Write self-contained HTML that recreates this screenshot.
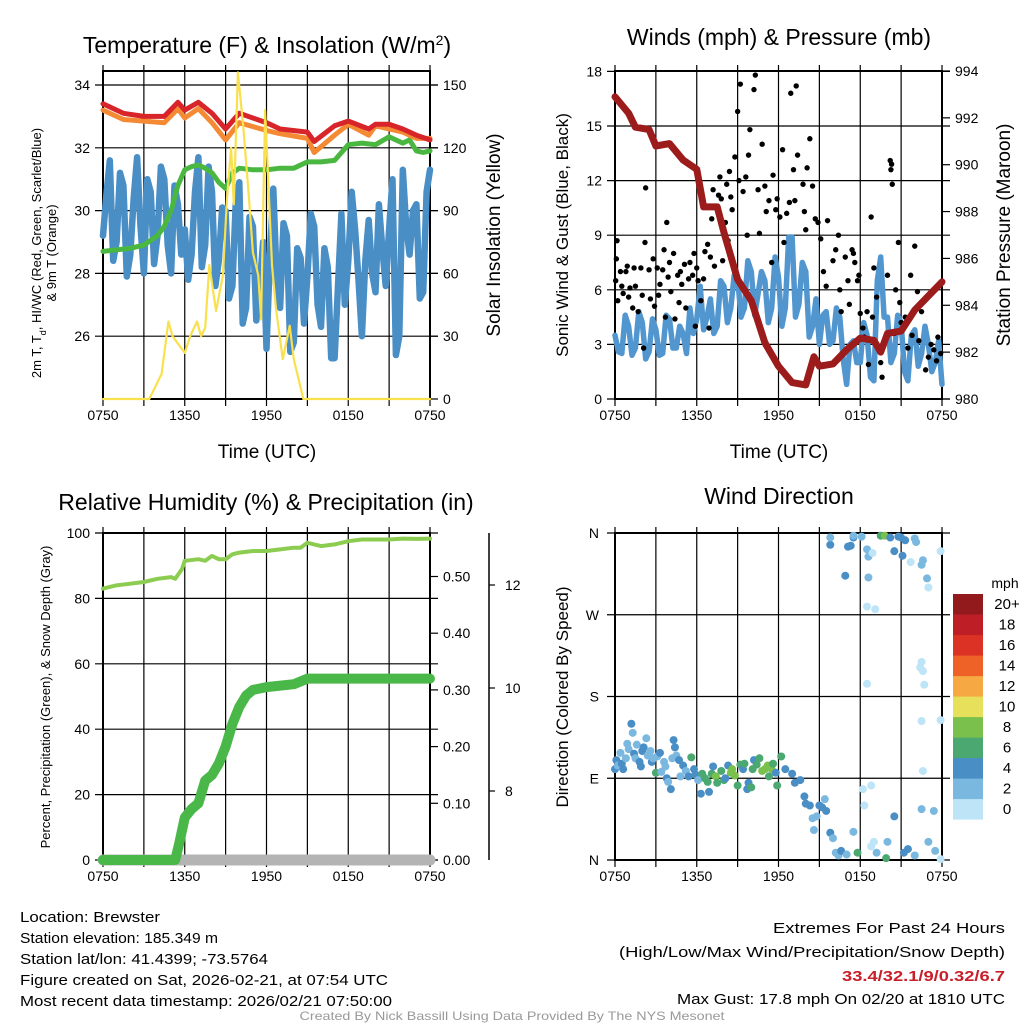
<!DOCTYPE html>
<html><head><meta charset="utf-8"><title>Brewster Meteogram</title>
<style>
html,body{margin:0;padding:0;background:#fff;}
svg{display:block;font-family:"Liberation Sans",sans-serif;}
</style></head>
<body>
<svg id="fig" width="1024" height="1024" viewBox="0 0 1024 1024" xmlns="http://www.w3.org/2000/svg">
<rect width="1024" height="1024" fill="#fff"/>
<g id="layer"></g>
<text x="267" y="53" font-size="23" text-anchor="middle">Temperature (F) &amp; Insolation (W/m<tspan baseline-shift="super" font-size="14">2</tspan>)</text>
<text x="779" y="45" font-size="23" text-anchor="middle">Winds (mph) &amp; Pressure (mb)</text>
<text x="266" y="510" font-size="23" text-anchor="middle">Relative Humidity (%) &amp; Precipitation (in)</text>
<text x="779" y="504" font-size="23" text-anchor="middle">Wind Direction</text>
<text x="267" y="458" font-size="19" text-anchor="middle">Time (UTC)</text>
<text x="779" y="458" font-size="19" text-anchor="middle">Time (UTC)</text>
<g transform="translate(41,253) rotate(-90)">
<text x="0" y="0" font-size="13" text-anchor="middle">2m T, T<tspan baseline-shift="sub" font-size="9">d</tspan>, HI/WC (Red, Green, Scarlet/Blue)</text>
<text x="0" y="15" font-size="13" text-anchor="middle">&amp; 9m T (Orange)</text>
</g>
<text transform="translate(500,235) rotate(-90)" font-size="19" text-anchor="middle">Solar Insolation (Yellow)</text>
<text transform="translate(568,235) rotate(-90)" font-size="17" text-anchor="middle">Sonic Wind &amp; Gust (Blue, Black)</text>
<text transform="translate(1010,235) rotate(-90)" font-size="19" text-anchor="middle">Station Pressure (Maroon)</text>
<text transform="translate(50,697) rotate(-90)" font-size="13" text-anchor="middle">Percent, Precipitation (Green), &amp; Snow Depth (Gray)</text>
<text transform="translate(568,697) rotate(-90)" font-size="17" text-anchor="middle">Direction (Colored By Speed)</text>
<text x="1005" y="588" font-size="14" text-anchor="middle">mph</text>
<g font-size="14.5">
<text x="20" y="922" textLength="140" lengthAdjust="spacingAndGlyphs">Location: Brewster</text>
<text x="20" y="943" textLength="198" lengthAdjust="spacingAndGlyphs">Station elevation: 185.349 m</text>
<text x="20" y="964" textLength="248" lengthAdjust="spacingAndGlyphs">Station lat/lon: 41.4399; -73.5764</text>
<text x="20" y="985" textLength="368" lengthAdjust="spacingAndGlyphs">Figure created on Sat, 2026-02-21, at 07:54 UTC</text>
<text x="20" y="1006" textLength="372" lengthAdjust="spacingAndGlyphs">Most recent data timestamp: 2026/02/21 07:50:00</text>
</g>
<g font-size="15" text-anchor="end">
<text x="1005" y="933" textLength="232" lengthAdjust="spacingAndGlyphs">Extremes For Past 24 Hours</text>
<text x="1005" y="957" textLength="386" lengthAdjust="spacingAndGlyphs">(High/Low/Max Wind/Precipitation/Snow Depth)</text>
<text x="1005" y="981" fill="#c8202a" font-weight="bold" textLength="163" lengthAdjust="spacingAndGlyphs">33.4/32.1/9/0.32/6.7</text>
<text x="1005" y="1004" textLength="328" lengthAdjust="spacingAndGlyphs">Max Gust: 17.8 mph On 02/20 at 1810 UTC</text>
</g>
<text x="512" y="1020" font-size="12" fill="#999" text-anchor="middle" textLength="425" lengthAdjust="spacingAndGlyphs">Created By Nick Bassill Using Data Provided By The NYS Mesonet</text>
</svg>
<script>
// ---------- DATA ----------
const xTickLabels = ["0750","1350","1950","0150","0750"];
const tempTicks = [26,28,30,32,34];
const insolTicks = [0,30,60,90,120,150];
const windTicks = [0,3,6,9,12,15,18];
const presTicks = [980,982,984,986,988,990,992,994];
const rhTicks = [0,20,40,60,80,100];
const precipTicks = ["0.00","0.10","0.20","0.30","0.40","0.50"];
const snowTicks = [8,10,12];
const dirTicks = ["N","E","S","W","N"];
const speedBins = ["0","2","4","6","8","10","12","14","16","18","20+"];

const tempHours = [0,1,1.5,3,4.5,5.5,6,7,8,9,10,12,13,15,15.5,17,18,19.5,20,21,22,23,24];
const redT =    [33.4,33.2,33.1,33.0,33.0,33.45,33.2,33.45,33.1,32.6,33.1,32.8,32.6,32.5,32.2,32.7,32.85,32.6,32.75,32.75,32.6,32.4,32.25];
const orangeT = [33.2,33.0,32.9,32.85,32.8,33.25,32.95,33.25,32.8,32.25,32.8,32.55,32.45,32.3,31.85,32.4,32.75,32.4,32.7,32.6,32.5,32.3,32.3];
const greenHours = [0,1,2,3,4,4.5,5,5.5,6,6.5,7,7.5,8,8.5,9,9.5,10,11,12,13,14,15,16,17,18,19,20,21,22,22.5,23,23.5,24];
const greenT = [28.7,28.75,28.8,28.9,29.2,29.5,30.0,30.8,31.3,31.4,31.45,31.35,31.2,30.9,30.7,31.2,31.35,31.3,31.3,31.35,31.35,31.55,31.55,31.6,32.1,32.15,32.1,32.35,32.15,32.25,31.9,31.85,31.9];
const blueT = [29.2,30.5,31.6,28.4,29.0,31.2,30.8,27.9,28.6,30.4,31.7,29.5,28.0,31.0,30.6,28.3,29.2,31.4,31.0,28.9,28.0,30.8,30.2,28.6,29.4,27.8,28.6,30.6,31.7,28.2,28.9,31.4,30.6,27.6,28.4,30.1,30.0,27.2,27.6,30.3,30.9,26.4,26.9,29.8,29.5,26.5,27.6,29.0,25.6,28.5,30.7,27.8,26.9,29.6,29.2,25.5,25.8,28.8,28.5,26.4,27.9,29.9,29.5,27.0,26.3,28.8,28.2,25.3,25.3,27.6,29.9,27.0,28.4,30.6,29.4,27.8,26.0,28.4,29.7,28.0,27.4,30.2,28.8,27.6,29.4,31.0,25.4,26.0,31.3,29.5,28.6,30.0,30.2,27.2,27.4,30.6,31.3];
const insolHours = [0,3.4,4.3,4.8,5.1,6.0,6.4,6.9,7.2,7.5,7.8,8.3,8.8,9.1,9.4,9.6,9.9,10.3,10.7,11.0,11.4,11.6,11.9,12.4,12.7,13.2,13.7,14.0,14.7,24];
const insol = [0,0,12,37,30,22,30,37,30,34,64,42,59,96,120,93,156,130,97,70,59,38,138,64,43,19,35,19,0,0];

const sonicWind = [3.5,2.6,2.5,4.6,4.0,2.4,2.8,4.8,4.2,2.2,2.6,4.4,3.8,2.4,2.5,4.6,4.4,2.8,2.8,4.0,3.6,2.5,5.0,3.6,4.4,6.2,3.8,4.5,5.5,3.6,4.0,6.5,6.2,4.2,5.0,6.8,6.7,4.5,5.0,7.6,7.0,4.6,5.8,7.0,6.5,4.2,5.0,7.8,6.7,4.0,5.0,8.9,8.9,4.5,5.2,7.5,7.0,3.4,4.0,5.5,3.0,4.6,4.8,3.0,3.2,5.0,4.5,2.2,0.8,3.0,3.2,2.0,2.0,4.2,3.5,1.2,1.0,6.5,7.8,4.5,4.5,2.0,2.5,4.6,4.2,1.5,1.0,3.5,3.8,1.8,2.5,4.0,3.0,1.5,2.0,3.2,0.8];
const presHours = [0,1,1.5,2.5,3,4,5,6,6.5,7.5,8,9,10,11,12,13,14,14.6,15,16,17,18,19,19.5,20,21,22,23,24];
const pressure = [992.9,992.2,991.6,991.5,990.8,990.9,990.2,989.8,988.2,988.2,987.1,985.1,984.2,982.4,981.4,980.7,980.6,981.8,981.4,981.5,982.1,982.6,982.5,982.0,982.8,982.9,983.8,984.4,985.0];
const gustHours = [0.05,0.1,0.15,0.2,0.4,0.5,0.6,0.8,0.9,1.0,1.1,1.3,1.4,1.5,1.7,1.9,2.0,2.1,2.2,2.25,2.5,2.6,2.8,2.9,3.1,3.2,3.3,3.5,3.6,3.7,3.8,3.9,4.0,4.1,4.3,4.4,4.6,4.7,4.8,4.9,5.1,5.2,5.4,5.5,5.7,5.8,5.9,6.0,6.1,6.3,6.5,6.6,6.8,6.9,7.0,7.1,7.2,7.3,7.5,7.6,7.7,7.8,7.9,8.0,8.1,8.2,8.3,8.4,8.5,8.6,8.8,9.0,9.2,9.1,9.4,9.6,9.7,9.8,9.9,10.2,10.3,10.5,10.6,10.8,11.0,11.1,11.3,11.5,11.6,11.8,11.9,12.1,12.3,12.4,12.6,12.8,12.9,13.1,13.2,13.3,13.4,13.8,13.9,14.0,14.1,14.3,14.5,14.7,14.9,15.1,15.3,15.5,15.6,16.0,16.2,16.4,16.5,16.6,16.9,17.1,17.2,17.4,17.5,17.6,17.8,17.9,18.0,18.2,18.3,18.5,18.6,18.8,18.9,19.0,19.2,19.5,19.6,20.0,20.2,20.25,20.3,20.35,20.5,20.6,20.8,20.9,21.0,21.3,21.5,21.7,21.8,22.0,22.2,22.3,22.5,22.8,23.0,23.2,23.4,23.6,23.7,23.9];
const gustSpeed = [6.5,7.7,8.7,5.4,7.0,6.2,5.8,7.0,7.3,5.6,6.1,5.0,7.2,6.2,4.8,7.2,5.7,2.8,8.6,11.6,7.1,5.5,7.7,5.1,7.2,5.7,6.3,7.1,8.2,4.5,9.7,6.7,7.5,5.9,8.0,4.4,6.8,5.3,7.0,6.3,7.4,5.0,6.6,7.5,6.8,8.0,4.0,7.2,6.5,5.4,6.6,8.1,8.5,3.9,7.8,9.9,11.5,7.3,10.5,11.2,12.2,11.0,7.6,9.0,9.7,11.8,8.7,12.5,11.1,10.4,13.3,15.8,17.3,12.0,11.4,12.2,9.0,13.4,14.8,17.0,17.8,11.5,9.1,14.0,11.7,10.3,10.9,7.5,12.3,10.4,11.0,10.0,13.7,8.6,10.2,10.8,16.8,12.6,10.9,17.2,13.4,11.8,10.3,9.3,12.7,14.3,11.7,9.9,9.7,8.8,7.0,6.2,9.8,7.6,8.2,9.0,6.0,4.8,7.8,6.5,5.2,8.2,8.0,7.5,6.5,6.8,4.7,3.9,3.4,4.8,1.9,10.0,4.5,7.2,5.6,2.0,1.2,6.8,13.1,12.6,12.9,11.8,3.6,6.0,8.6,5.3,4.2,4.5,2.8,6.8,3.5,8.4,5.9,3.2,4.8,1.6,2.3,3.0,2.7,2.1,3.4,2.5];

const rhHours = [0,1,2,3,4,5,5.3,5.8,6,7,7.5,8,8.5,9,9.5,10,11,12,13,14,14.5,15,16,17,18,19,20,21,22,23,24];
const rh = [83,84,84.5,85,86,86.5,86,89,91.5,92,91.5,93,92,92,93.5,94,94.5,94.5,95,95.5,95.5,97,96,96.5,97.5,98,98,98,98.3,98.2,98.3];
const precipHours = [0,5.3,5.6,6,6.5,7,7.5,8,8.5,9,9.5,10,10.5,11,12,14,15,24];
const precip = [0,0,0.03,0.075,0.09,0.10,0.14,0.15,0.17,0.20,0.24,0.27,0.29,0.30,0.305,0.31,0.32,0.32];
const snowHours = [0,24];
const snowDepth = [0,0];

const dirHours = [0.0,0.1,0.2,0.4,0.5,0.6,0.8,0.9,1.0,1.2,1.3,1.4,1.5,1.6,1.8,1.9,2.0,2.1,2.3,2.4,2.6,2.7,2.8,3.0,3.1,3.3,3.4,3.6,3.7,3.8,3.9,4.1,4.2,4.3,4.4,4.5,4.7,4.8,5.0,5.2,5.4,5.6,5.8,5.9,6.1,6.3,6.4,6.6,6.8,6.9,7.1,7.2,7.4,7.5,7.8,8.0,8.1,8.3,8.5,8.6,8.8,9.0,9.2,9.4,9.5,9.7,9.8,10.0,10.1,10.2,10.4,10.6,10.8,11.0,11.2,11.3,11.5,11.6,11.8,11.9,12.2,12.5,13.0,13.2,13.6,13.9,14.0,14.3,14.5,14.6,14.8,15.0,15.2,15.4,15.5,15.8,16.0,16.2,16.4,16.6,17.0,17.8,17.5,18.2,18.3,18.8,19.0,19.2,19.9,20.0,20.5,21.2,21.5,22.0,22.5,23.0,23.5,23.9,15.8,15.8,17.1,16.9,17.5,17.3,17.5,18.1,18.5,18.6,18.6,18.9,19.5,19.8,20.2,20.5,20.8,21.0,21.1,21.3,21.7,22.0,22.1,22.5,22.6,22.9,23.0,23.9,18.5,19.1,22.4,22.5,22.6,22.7,18.5,22.5,23.9,22.6,18.8,23.4];
const dirDeg = [100,110,104,118,106,100,112,128,122,150,140,117,112,127,108,103,120,124,134,115,120,108,112,96,114,118,97,108,103,90,86,78,112,132,124,115,110,92,104,98,92,113,100,94,88,73,95,90,86,75,95,103,92,85,98,88,90,104,96,100,93,82,105,100,106,78,85,80,100,110,105,112,98,100,104,92,100,106,96,82,114,100,95,85,88,70,62,60,46,33,48,60,58,67,54,30,24,8,5,10,6,8,31,78,60,15,20,8,2,20,48,8,12,5,56,20,10,1,347,355,345,313,355,346,357,356,342,334,311,338,357,357,355,340,356,355,335,352,328,354,350,325,330,310,300,340,279,276,212,218,208,193,194,153,154,98,82,54];
const dirSpeed = [4.5,4.2,3.5,3.0,4.5,4.0,3.2,2.5,2.8,4.2,3.0,4.0,3.1,2.4,4.3,4.0,4.1,4.4,2.9,3.2,2.7,4.1,3.8,7.5,3.5,4.3,2.8,3.9,2.6,4.2,3.2,4.4,3.0,4.0,4.2,2.8,4.5,3.5,4.0,3.5,4.4,6.0,4.2,4.3,3.6,4.4,7.0,6.5,7.0,4.5,6.8,4.1,8.0,6.5,7.5,6.0,4.0,4.5,8.5,9.0,8.2,6.5,6.8,4.3,6.0,4.6,4.0,7.0,6.0,4.1,7.0,6.5,8.5,8.0,8.5,6.5,8.0,7.5,4.5,6.1,6.2,5.0,4.4,4.0,4.5,4.2,4.4,4.0,3.0,2.8,3.6,4.3,4.0,3.0,4.2,4.0,3.0,3.5,2.4,4.4,3.5,7.0,2.5,1.2,1.4,1.5,1.2,3.0,7.0,2.5,4.5,4.4,4.0,2.5,3.0,2.2,2.0,0.8,4.5,2.5,4.5,4.0,4.4,4.0,3.0,3.5,3.0,2.8,2.5,1.2,7.5,8.0,4.0,4.2,4.0,4.6,4.4,4.3,1.2,2.5,2.5,3.0,2.8,2.6,1.5,1.0,1.0,1.2,1.2,1.0,1.0,1.0,1.0,1.2,1.5,1.0,1.0,3.8];

// ---------- RENDER ----------
const NS = "http://www.w3.org/2000/svg";
const layer = document.getElementById("layer");
function mk(tag, attrs, parent){
  const e = document.createElementNS(NS, tag);
  for (const k in attrs) e.setAttribute(k, attrs[k]);
  (parent || layer).appendChild(e);
  return e;
}
const binColors = ["#bde4f7","#7ab8e0","#4a8ec6","#4aa870","#7ac04c","#e6e05a","#f6a843","#ee6228","#dc3226","#be1e26","#931a1c"];

const panels = {
  tl:{x0:103,x1:430,y0:71,y1:399},
  tr:{x0:615,x1:942,y0:71,y1:399},
  bl:{x0:103,x1:430,y0:533,y1:860},
  br:{x0:615,x1:942,y0:533,y1:860}
};
function xs(p,h){return p.x0 + h/24*(p.x1-p.x0);}
const yTemp = v => 399 - (v-24)*31.4;
const yInsol = v => 399 - v*62.8/30;
const yWind = v => 399 - v*18.2;
const yPres = v => 399 - (v-980)*23.43;
const yRH = v => 860 - v*3.27;
const yPrecip = v => 860 - v*567;
const yDir = d => 860 - d/360*327;
const ySnow = v => 688 - (v-10)*51.5;

function frame(p, name){
  const g = mk("g", {});
  
  
  for (let i=0;i<=8;i++){
    const x = xs(p, i*3);
    mk("line",{x1:x,y1:p.y0-6,x2:x,y2:p.y1+7,stroke:"#000","stroke-width":1.2},g);
  }
  const labs = mk("g",{"font-size":14,"text-anchor":"middle"});
  
  
  xTickLabels.forEach((t,i)=>{
    const tx = mk("text",{x:xs(p,i*6),y:p.y1+21},labs);
    tx.textContent = t;
  });
  const r = mk("rect",{x:p.x0,y:p.y0,width:p.x1-p.x0,height:p.y1-p.y0,fill:"none",stroke:"#000","stroke-width":2});
  
  
}
function hgrid(p, vals, yf, name, labelFmt, side, gridOn){
  const g = mk("g",{"font-size":14,"text-anchor": side==="left"?"end":"start"});
  
  
  vals.forEach(v=>{
    const y = yf(typeof v==="string"?parseFloat(v):v);
    if (gridOn) mk("line",{x1:p.x0-8,y1:y,x2:p.x1+8,y2:y,stroke:"#000","stroke-width":1.2},g);
    else if (side==="right") mk("line",{x1:p.x1,y1:y,x2:p.x1+8,y2:y,stroke:"#000","stroke-width":1.2},g);
    const t = mk("text",{x: side==="left"? p.x0-13 : p.x1+13, y:y+5},g);
    t.textContent = labelFmt(v);
  });
}
function poly(hours, vals, p, yf, color, w, name){
  const pts = hours.map((h,i)=>xs(p,h).toFixed(1)+","+yf(vals[i]).toFixed(1)).join(" ");
  const e = mk("polyline",{points:pts,fill:"none",stroke:color,"stroke-width":w,"stroke-linejoin":"round","stroke-linecap":"round"});
  
  
  return e;
}
const evenHours = (arr)=>arr.map((_,i)=>i*24/(arr.length-1));

// Top-left
const tl = panels.tl;
frame(tl,'temperature');
hgrid(tl,tempTicks,yTemp,'temperature-y-ticks',v=>v,'left',true);
hgrid(tl,insolTicks,yInsol,'insolation-y-ticks',v=>v,'right',false);
poly(evenHours(blueT),blueT,tl,yTemp,"#4a8ec6",6.5,'heat-index-windchill-line');
poly(greenHours,greenT,tl,yTemp,"#4ab840",5,'dewpoint-line');
poly(tempHours,orangeT,tl,yTemp,"#f58a35",5,'temp-9m-line');
poly(tempHours,redT,tl,yTemp,"#d7252a",5,'temp-2m-line');
poly(insolHours,insol,tl,yInsol,"#f9e04d",2.2,'insolation-line');

// Top-right
const tr = panels.tr;
frame(tr,'winds');
hgrid(tr,windTicks,yWind,'wind-y-ticks',v=>v,'left',true);
hgrid(tr,presTicks,yPres,'pressure-y-ticks',v=>v,'right',false);
poly(evenHours(sonicWind),sonicWind,tr,yWind,"#5296d0",5.5,'sonic-wind-line');
gustHours.forEach((h,i)=>{
  const c = mk("circle",{cx:xs(tr,h),cy:yWind(gustSpeed[i]),r:2.7,fill:"#000"});
  
  
});
poly(presHours,pressure,tr,yPres,"#9c1b1b",7,'pressure-line');

// Bottom-left
const bl = panels.bl;
frame(bl,'humidity');
hgrid(bl,rhTicks,yRH,'humidity-y-ticks',v=>v,'left',true);
hgrid(bl,precipTicks,yPrecip,'precip-y-ticks',v=>v,'right',false);
const snowAxis = mk("g",{"font-size":14});


mk("line",{x1:489,y1:533,x2:489,y2:860,stroke:"#000","stroke-width":1.5},snowAxis);
snowTicks.forEach(v=>{
  const y = ySnow(v);
  mk("line",{x1:489,y1:y,x2:495,y2:y,stroke:"#000","stroke-width":1.2},snowAxis);
  const t = mk("text",{x:505,y:y+5},snowAxis);
  t.textContent = v;
});
poly(snowHours,snowDepth,bl,yRH,"#b4b4b4",11,'snow-depth-line');
poly(precipHours,precip,bl,yPrecip,"#4ab848",10,'precipitation-line');
poly(rhHours,rh,bl,yRH,"#8ccc50",4,'humidity-line');

// Bottom-right
const br = panels.br;
frame(br,'wind-direction');
const dg = mk("g",{"font-size":14,"text-anchor":"end"});


dirTicks.forEach((t,i)=>{
  const y = yDir(i*90);
  mk("line",{x1:br.x0-8,y1:y,x2:br.x1+8,y2:y,stroke:"#000","stroke-width":1.2},dg);
  const tx = mk("text",{x:br.x0-16,y:y+5},dg);
  tx.textContent = t;
});
dirHours.forEach((h,i)=>{
  const b = Math.min(10, Math.floor(dirSpeed[i]/2));
  const c = mk("circle",{cx:xs(br,h),cy:yDir(dirDeg[i]),r:4,fill:binColors[b]});
  
  
});
const cb = mk("g",{"font-size":15,"text-anchor":"middle"});


speedBins.forEach((lab,i)=>{
  const y = 799 - i*20.5;
  mk("rect",{x:953,y:y,width:30,height:20.6,fill:binColors[i]},cb);
  const t = mk("text",{x:1007,y:y+15},cb);
  t.textContent = lab;
});
</script>
</body></html>
